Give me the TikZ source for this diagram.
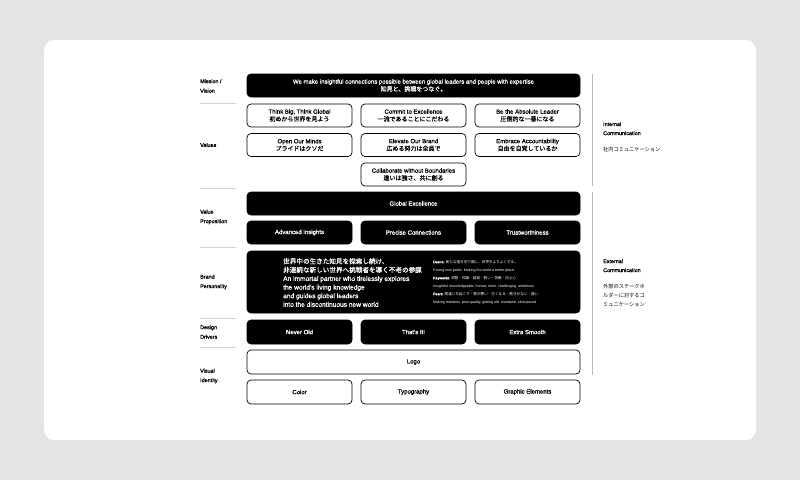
\documentclass[tikz,border=0pt]{standalone}
\usepackage{fontspec}
\setmainfont{Liberation Sans}
\newfontfamily\jp{Noto Sans CJK JP}[FakeBold=0.5]
\newfontfamily\jpr{Noto Sans CJK JP}
\newfontfamily\med{Liberation Sans}[FakeBold=1.1]
\usetikzlibrary{positioning}
\definecolor{pagegray}{HTML}{E4E4E6}
\definecolor{linegray}{HTML}{B8B8B8}

\begin{document}
\begin{tikzpicture}[
        x=1pt, y=-1pt,
        every node/.style={font=\fontsize{6}{7.5}\selectfont\med, inner sep=0pt},
        wbox/.style={draw, line width=0.7pt, rounded corners=4pt, fill=white, align=center, minimum height=23pt},
        bbox/.style={draw, line width=0.7pt, rounded corners=4pt, fill=black, text=white, align=center, minimum height=23pt},
        colbox/.style={minimum width=105pt},
        fullbox/.style={minimum width=333pt},
        leftlab/.style={anchor=west, align=left, font=\fontsize{5.4}{9.5}\selectfont\med},
        rightlab/.style={anchor=north west, align=left, font=\fontsize{5.4}{9}\selectfont\med},
        sepline/.style={draw=linegray!60, line width=0.6pt}
    ]
    % page and card
    \fill[pagegray] (0,0) rectangle (800,480);
    \fill[white, rounded corners=10pt] (44,40) rectangle (756,440);
    \useasboundingbox (0,0) rectangle (800,480);

    % mission / vision
    \node[bbox, fullbox] (mission) at (413.5,85.5) {We make insightful connections possible between global leaders and people with expertise\\{\jp 知見と、挑戦をつなぐ。}};

    % values
    \node[wbox, colbox] (think) at (299.5,115.5) {Think Big, Think Global\\{\jp 初めから世界を見よう}};
    \node[wbox, colbox] (commit) at (413.5,115.5) {Commit to Excellence\\{\jp 一流であることにこだわる}};
    \node[wbox, colbox] (leader) at (527.5,115.5) {Be the Absolute Leader\\{\jp 圧倒的な一番になる}};
    \node[wbox, colbox] (minds) at (299.5,145) {Open Our Minds\\{\jp プライドはクソだ}};
    \node[wbox, colbox] (brand) at (413.5,145) {Elevate Our Brand\\{\jp 広める努力は全員で}};
    \node[wbox, colbox] (account) at (527.5,145) {Embrace Accountability\\{\jp 自由を自覚しているか}};
    \node[wbox, colbox] (collab) at (413.5,174.5) {Collaborate without Boundaries\\{\jp 違いは強さ、共に創る}};

    % value proposition
    \node[bbox, fullbox] (global) at (413.5,203.5) {Global Excellence};
    \node[bbox, colbox] (insights) at (299.5,232.5) {Advanced Insights};
    \node[bbox, colbox] (precise) at (413.5,232.5) {Precise Connections};
    \node[bbox, colbox] (trust) at (527.5,232.5) {Trustworthiness};

    % brand personality
    \node[bbox, fullbox, minimum height=62pt] (personality) at (413.5,282) {};
    \node[anchor=north west, align=left, text=white, font=\fontsize{6.6}{8.6}\selectfont\med] (motto) at (283,258)
        {{\jp 世界中の生きた知見を探索し続け、}\\{\jp 非連続な新しい世界へ挑戦者を導く不老の参謀}\\An immortal partner who tirelessly explores\\the world's living knowledge\\and guides global leaders\\into the discontinuous new world};
    \node[anchor=north west, align=left, text=white, font=\fontsize{3.6}{8}\selectfont] (traits) at (433,260)
        {{\med Desire:} {\jpr 新たな道を切り開し、世界をよりよくする。}\\Paving new paths. Making the world a better place.\\{\med Keywords:} {\jpr 洞察・知識・誠実・鋭い・挑戦・向上心}\\Insightful, knowledgeable, honest, keen, challenging, ambitious\\{\med Fears:} {\jpr 間違いを起こす・質が悪い・古くなる・飽きがない・遅い}\\Making mistakes, poor quality, getting old, mundane, slow-paced};

    % design drivers
    \node[bbox, colbox, minimum height=24pt] (neverold) at (299.5,332) {Never Old};
    \node[bbox, colbox, minimum height=24pt] (thatsit) at (413.5,332) {That's It!};
    \node[bbox, colbox, minimum height=24pt] (smooth) at (527.5,332) {Extra Smooth};

    % visual identity
    \node[wbox, fullbox, minimum height=24pt] (logo) at (413.5,362) {Logo};
    \node[wbox, colbox, minimum height=24pt] (color) at (299.5,392) {Color};
    \node[wbox, colbox, minimum height=24pt] (typo) at (413.5,392) {Typography};
    \node[wbox, colbox, minimum height=24pt] (graphic) at (527.5,392) {Graphic Elements};

    % left labels
    \node[leftlab] (labmission) at (200,86) {Mission /\\Vision};
    \node[leftlab] (labvalues) at (200,145) {Values};
    \node[leftlab] (labvp) at (200,217) {Value\\Proposition};
    \node[leftlab] (labbp) at (200,282) {Brand\\Personality};
    \node[leftlab] (labdd) at (200,332) {Design\\Drivers};
    \node[leftlab] (labvi) at (200,376) {Visual\\Identity};
    \foreach \y in {103,188,247,318,347}
        \draw[sepline] (200,\y) -- (236,\y);

    % right side
    \coordinate (intop) at (592,74);
    \coordinate (inbot) at (592,186);
    \coordinate (extop) at (592,192);
    \coordinate (exbot) at (592,375);
    \draw[linegray, line width=0.6pt] (intop) -- (inbot);
    \draw[linegray, line width=0.6pt] (extop) -- (exbot);
    \node[rightlab] (internal) at (603,122) {Internal\\Communication};
    \node[rightlab, font=\fontsize{5.2}{9}\selectfont\jpr] (internaljp) at (603,147) {社内コミュニケーション};
    \node[rightlab] (external) at (603,259) {External\\Communication};
    \node[rightlab, font=\fontsize{5.2}{9}\selectfont\jpr] (externaljp) at (603,284) {外部のステークホ\\ルダーに対するコ\\ミュニケーション};
\end{tikzpicture}
\end{document}
